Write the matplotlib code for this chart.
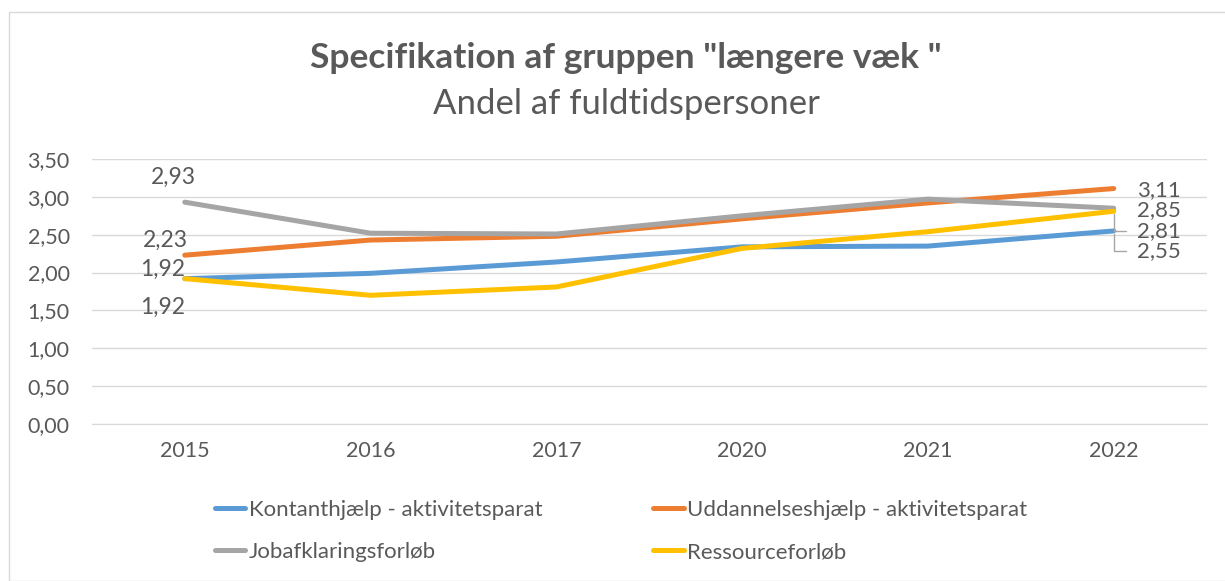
"""
Specifikation af gruppen "længere væk" - andel af fuldtidspersoner
"""
import matplotlib

matplotlib.use("Agg")
import matplotlib.pyplot as plt  # noqa:E402
from matplotlib.patches import Rectangle  # noqa:E402
from matplotlib.ticker import FuncFormatter  # noqa:E402

years = ["2015", "2016", "2017", "2020", "2021", "2022"]
kontant = [1.92, 1.99, 2.14, 2.34, 2.35, 2.55]
uddannelse = [2.23, 2.43, 2.48, 2.71, 2.92, 3.11]
jobafklaring = [2.93, 2.52, 2.51, 2.75, 2.97, 2.85]
ressource = [1.92, 1.70, 1.81, 2.32, 2.54, 2.81]

series_names = [
    "Kontanthjælp - aktivitetsparat",
    "Uddannelseshjælp - aktivitetsparat",
    "Jobafklaringsforløb",
    "Ressourceforløb",
]
colors = ["#5B9BD5", "#ED7D31", "#A5A5A5", "#FFC000"]
text_color = "#595959"


def fmt(v):
    return f"{v:.2f}".replace(".", ",")


def main():
    plt.rcParams["font.family"] = ["Lato", "DejaVu Sans"]
    fig = plt.figure(figsize=(12.25, 5.81), dpi=100)
    fig.patches.append(
        Rectangle((0.007, 0.0), 1.2, 0.979, transform=fig.transFigure,
                  fill=False, edgecolor="#d9d9d9", linewidth=1.0)
    )
    ax = fig.add_axes([0.075, 0.2702, 0.91, 0.4561])

    x = list(range(len(years)))
    data = [kontant, uddannelse, jobafklaring, ressource]
    lines = {}
    # draw order: grey and orange below, blue and yellow on top
    for idx in [2, 1, 0, 3]:
        (ln,) = ax.plot(x, data[idx], color=colors[idx], linewidth=3.6,
                        solid_capstyle="round", label=series_names[idx],
                        zorder=3 + idx)
        lines[series_names[idx]] = ln

    ax.set_xlim(-0.5, len(years) - 0.5)
    ax.set_ylim(0, 3.5)
    ax.set_yticks([0, 0.5, 1.0, 1.5, 2.0, 2.5, 3.0, 3.5])
    ax.yaxis.set_major_formatter(FuncFormatter(lambda v, _: fmt(v)))
    ax.set_xticks(x)
    ax.set_xticklabels(years)
    ax.tick_params(axis="both", length=0, labelsize=15.5, colors=text_color)
    ax.tick_params(axis="x", pad=12)
    ax.tick_params(axis="y", pad=16)
    ax.grid(axis="y", color="#d9d9d9", linewidth=1.0)
    ax.set_axisbelow(True)
    for side in ["top", "right", "left"]:
        ax.spines[side].set_visible(False)
    ax.spines["bottom"].set_color("#d9d9d9")

    # data labels at first point
    lab = dict(fontsize=16.5, color=text_color, ha="center", va="center",
               textcoords="offset points")
    ax.annotate(fmt(jobafklaring[0]), (0, jobafklaring[0]), xytext=(-8, 18), **lab)
    ax.annotate(fmt(uddannelse[0]), (0, uddannelse[0]), xytext=(-14, 11), **lab)
    ax.annotate(fmt(kontant[0]), (0, kontant[0]), xytext=(-16, 7), **lab)
    ax.annotate(fmt(ressource[0]), (0, ressource[0]), xytext=(-16, -21), **lab)

    # data labels at last point
    last = len(years) - 1
    lab_r = dict(fontsize=16, color=text_color, ha="left", va="center",
                 textcoords="offset points")
    leader = dict(arrowstyle="-", color="#a6a6a6", lw=1.0,
                  connectionstyle="angle,angleA=0,angleB=90,rad=0",
                  shrinkA=6, shrinkB=2)
    ax.annotate(fmt(uddannelse[-1]), (last, uddannelse[-1]), xytext=(16.5, -1), **lab_r)
    ax.annotate(fmt(jobafklaring[-1]), (last, jobafklaring[-1]), xytext=(16.5, -1.5), **lab_r)
    ax.annotate(fmt(ressource[-1]), (last, ressource[-1]), xytext=(16.5, -14),
                arrowprops=leader, **lab_r)
    ax.annotate(fmt(kontant[-1]), (last, kontant[-1]), xytext=(16.5, -14.5),
                arrowprops=leader, **lab_r)

    fig.text(0.511, 0.9, 'Specifikation af gruppen "længere væk "', ha="center",
             va="center", fontsize=25.5, fontweight="bold", color=text_color)
    fig.text(0.511, 0.821, "Andel af fuldtidspersoner", ha="center", va="center",
             fontsize=25, color=text_color)

    # legend filled column-wise, so order to get two rows of two
    legend_order = [series_names[0], series_names[2], series_names[1], series_names[3]]
    fig.legend(
        [lines[n] for n in legend_order], legend_order,
        loc="center left", bbox_to_anchor=(0.1755, 0.086), ncol=2, frameon=False,
        fontsize=16, labelcolor=text_color, handlelength=1.36, handletextpad=0.15,
        columnspacing=5.0, labelspacing=1.0, borderpad=0, borderaxespad=0,
    )

    fig.savefig("out.png", dpi=100)
    plt.close(fig)


if __name__ == "__main__":
    main()
